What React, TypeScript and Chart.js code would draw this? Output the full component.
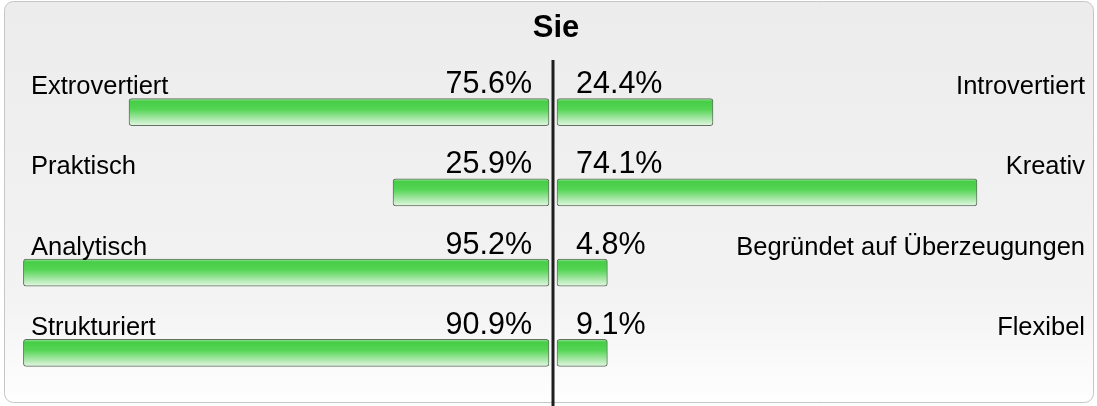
import { useEffect, useRef } from "react";
import { Chart, registerables } from "chart.js";

Chart.register(...registerables);

const chartTitle = "Sie";
const leftLabels = ["Extrovertiert", "Praktisch", "Analytisch", "Strukturiert"];
const rightLabels = ["Introvertiert", "Kreativ", "Begründet auf Überzeugungen", "Flexibel"];
const leftPct = [75.6, 25.9, 95.2, 90.9];
const rightPct = [24.4, 74.1, 4.8, 9.1];
// drawn bar lengths (the source draws bars in 5% steps)
const leftBar = [75, 25, 95, 95];
const rightBar = [25, 75, 5, 5];

const INNER = 0.76; // gap between centre line and bar start (value units)
const LEAD = 5.3; // constant lead of every bar (value units)
const RANGE = 102.27;

const FONT = "'Liberation Sans', Arial, sans-serif";

function barFill(context: any) {
  const chart = context.chart;
  const ys = chart.scales && chart.scales.y;
  if (!ys) return "#55d055";
  const cy = ys.getPixelForValue(context.dataIndex);
  if (!Number.isFinite(cy)) return "#55d055";
  const h = 27;
  const g = chart.ctx.createLinearGradient(0, cy - h / 2, 0, cy + h / 2);
  g.addColorStop(0, "#a4e6a4");
  g.addColorStop(0.1, "#46cd46");
  g.addColorStop(0.4, "#55d555");
  g.addColorStop(0.72, "#a2e6a2");
  g.addColorStop(1, "#e4f7e4");
  return g;
}

const panelPlugin = {
  id: "panel",
  beforeDraw(chart: any) {
    const { ctx } = chart;
    ctx.save();
    ctx.fillStyle = "#ffffff";
    ctx.fillRect(0, 0, chart.width, chart.height);
    const x = 4.5, y = 1.5, w = 1089, h = 401, r = 9;
    const g = ctx.createLinearGradient(0, y, 0, y + h);
    g.addColorStop(0, "#ececec");
    g.addColorStop(0.75, "#f3f3f3");
    g.addColorStop(0.88, "#f9f9f9");
    g.addColorStop(1, "#fefefe");
    ctx.beginPath();
    ctx.roundRect(x, y, w, h, r);
    ctx.fillStyle = g;
    ctx.fill();
    ctx.lineWidth = 1;
    ctx.strokeStyle = "#c6c6c6";
    ctx.stroke();
    ctx.restore();
  },
  afterDatasetsDraw(chart: any) {
    const { ctx } = chart;
    const cx = chart.scales.x.getPixelForValue(0);
    ctx.save();
    ctx.strokeStyle = "#1e1e1e";
    ctx.lineWidth = 3;
    ctx.beginPath();
    ctx.moveTo(cx, 60);
    ctx.lineTo(cx, chart.height);
    ctx.stroke();
    ctx.restore();
  },
  afterDraw(chart: any) {
    const { ctx } = chart;
    const xs = chart.scales.x;
    const ys = chart.scales.y;
    const cx = xs.getPixelForValue(0);
    ctx.save();
    ctx.fillStyle = "#000000";
    ctx.textBaseline = "alphabetic";
    ctx.font = `bold 31px ${FONT}`;
    ctx.textAlign = "center";
    ctx.fillText(chartTitle, cx + 3, 37);
    for (let i = 0; i < leftLabels.length; i++) {
      const cy = ys.getPixelForValue(i);
      const base = cy - 18;
      ctx.font = `25.5px ${FONT}`;
      ctx.textAlign = "left";
      ctx.fillText(leftLabels[i], 31, base);
      ctx.textAlign = "right";
      ctx.fillText(rightLabels[i], 1085, base);
      ctx.font = `30.5px ${FONT}`;
      ctx.textAlign = "right";
      ctx.fillText(`${leftPct[i].toFixed(1)}%`, cx - 21, base - 1);
      ctx.textAlign = "left";
      ctx.fillText(`${rightPct[i].toFixed(1)}%`, cx + 23, base - 1);
    }
    ctx.restore();
  },
};

export default function App() {
  const ref = useRef<HTMLCanvasElement | null>(null);
  useEffect(() => {
    if (!ref.current) return;
    const common = {
      backgroundColor: barFill,
      borderColor: "#617061",
      borderWidth: 1,
      borderRadius: 3,
      borderSkipped: false,
      barThickness: 27,
      grouped: false,
    };
    const chart = new Chart(ref.current, {
      type: "bar",
      data: {
        labels: leftLabels,
        datasets: [
          { label: "links", data: leftBar.map((v) => [-(v + LEAD), -INNER]), ...common } as any,
          { label: "rechts", data: rightBar.map((v) => [INNER, v + LEAD]), ...common } as any,
        ],
      },
      options: {
        indexAxis: "y",
        responsive: false,
        animation: false,
        events: [],
        layout: { padding: { left: 13, right: 4, top: 72, bottom: 13 } },
        scales: {
          x: { type: "linear", min: -RANGE, max: RANGE, display: false },
          y: { type: "category", display: false, offset: true },
        },
        plugins: {
          legend: { display: false },
          tooltip: { enabled: false },
          title: { display: false },
        },
      },
      plugins: [panelPlugin],
    });
    return () => chart.destroy();
  }, []);
  return (
    <div style={{ position: "absolute", left: 0, top: 0, width: 1097, height: 406 }}>
      <canvas ref={ref} width={1097} height={406} style={{ display: "block" }} />
    </div>
  );
}
